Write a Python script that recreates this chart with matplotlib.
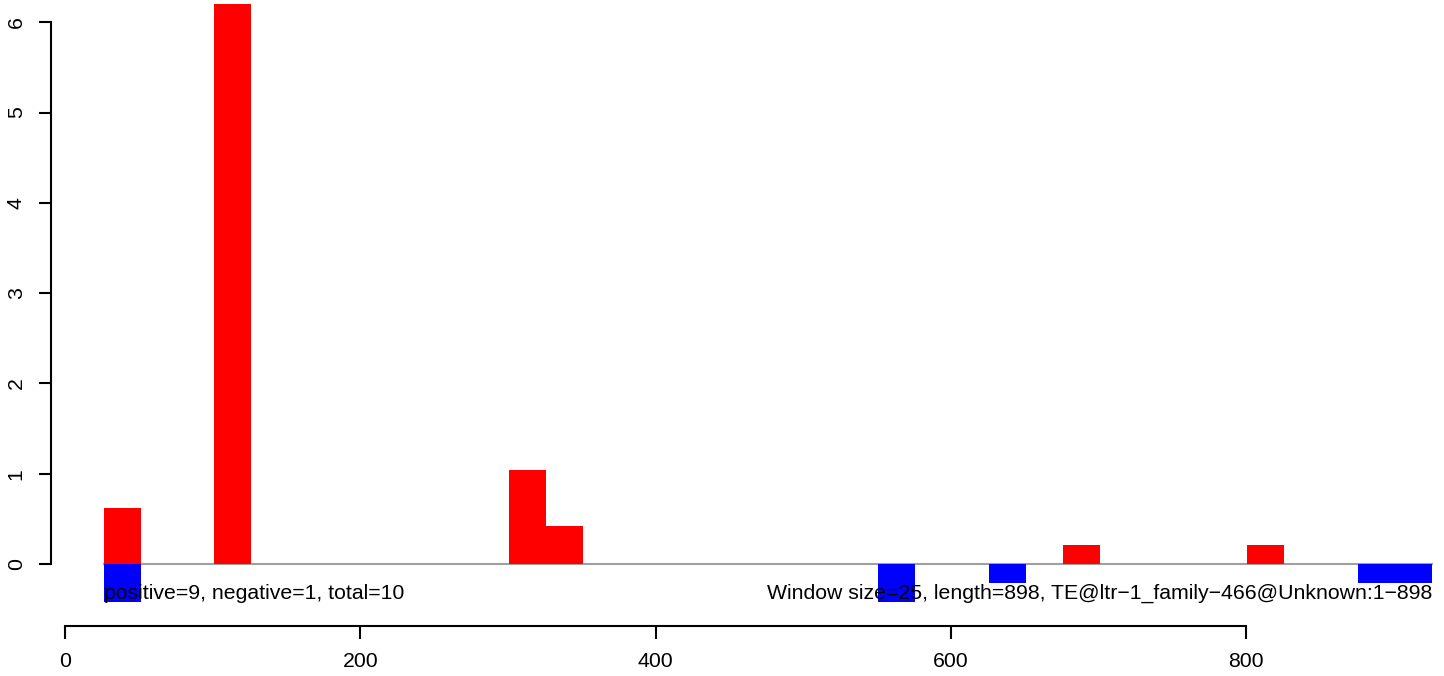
import matplotlib
matplotlib.use("Agg")
import matplotlib.pyplot as plt

plt.rcParams['font.family'] = ['Liberation Sans', 'DejaVu Sans']

# window starts (size 25, 1-based) and scores
pos_start = [26, 101, 301, 326, 676, 801]
pos_val = [0.62, 6.20, 1.04, 0.42, 0.21, 0.21]
neg_start = [26, 551, 626, 876, 901]
neg_val = [-0.42, -0.42, -0.21, -0.21, -0.21]
win = 25
seq_len = 898

xticks = [0, 200, 400, 600, 800]
yticks = [0, 1, 2, 3, 4, 5, 6]

left_txt = "positive=9, negative=1, total=10"
right_txt = "Window size=25, length=898, TE@ltr\u22121_family\u2212466@Unknown:1\u2212898"

W, H = 1444, 676
x0, sx = 65.3, 1.4755
y0, sy = 564, 90.3
fig = plt.figure(figsize=(W / 100, H / 100), dpi=100)
ax_l, ax_b, ax_r, ax_t = 50.7, 626, 1444, 0
ax = fig.add_axes([ax_l / W, 1 - ax_b / H, (ax_r - ax_l) / W, (ax_b - ax_t) / H])

ax.set_xlim((ax_l - x0) / sx, (ax_r - x0) / sx)
ax.set_ylim((y0 - ax_b) / sy, (y0 - ax_t) / sy)

ax.plot([26, 926], [0, 0], color="#a0a0a0", lw=1.5, zorder=1)
ax.bar(pos_start, pos_val, width=win, align="edge", color="#ff0000", lw=0, zorder=2)
ax.bar(neg_start, neg_val, width=win, align="edge", color="#0000ff", lw=0, zorder=2)

ax.text(26, -0.33, left_txt, ha="left", va="center", fontsize=15.3, zorder=3)
ax.text(926.5, -0.33, right_txt, ha="right", va="center", fontsize=15.3, zorder=3)

for s in ["top", "right"]:
    ax.spines[s].set_visible(False)
ax.spines["left"].set_bounds(0, 6)
ax.spines["bottom"].set_bounds(0, 800)
for s in ["left", "bottom"]:
    ax.spines[s].set_linewidth(1.5)
ax.set_xticks(xticks)
ax.set_yticks(yticks)
ax.tick_params(length=9, width=1.5, labelsize=15.3)
ax.tick_params(axis="x", pad=10)
ax.tick_params(axis="y", pad=9)
plt.setp(ax.get_yticklabels(), rotation=90, va="center")

fig.savefig("out.png", dpi=100)
